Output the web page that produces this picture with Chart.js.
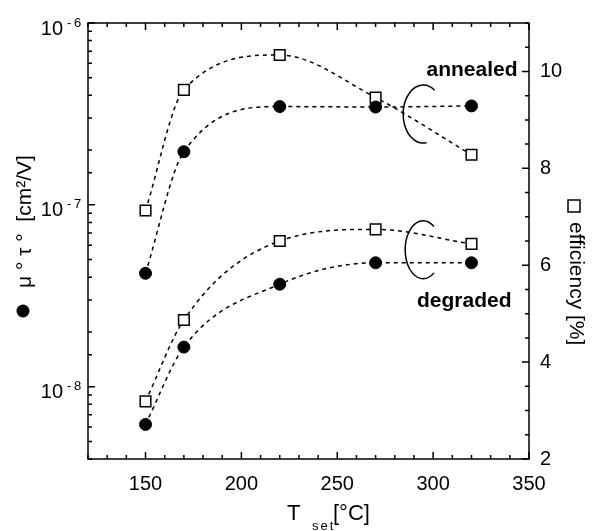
<!DOCTYPE html>
<html>
<head>
<meta charset="utf-8">
<style>
  html, body { margin: 0; padding: 0; background: #fff; }
  canvas { display: block; }
</style>
</head>
<body>
<canvas id="chart" width="592" height="531"></canvas>
<script src="https://cdn.jsdelivr.net/npm/chart.js@4.4.0/dist/chart.umd.min.js"></script>
<script>
/* ---- data ---- */
const temps = [150, 170, 220, 270, 320];
const muTauAnnealed = [4.2e-8, 1.96e-7, 3.47e-7, 3.45e-7, 3.5e-7];
const muTauDegraded = [6.2e-9, 1.65e-8, 3.66e-8, 4.8e-8, 4.8e-8];
const effAnnealed = [7.13, 9.62, 10.34, 9.46, 8.28];
const effDegraded = [3.19, 4.87, 6.50, 6.74, 6.44];

const xTicks = [150, 200, 250, 300, 350];
const effTicks = [2, 4, 6, 8, 10];
const muTauTicks = [1e-8, 1e-7, 1e-6];

const FONT = '"Liberation Sans", Arial, Helvetica, sans-serif';
Chart.defaults.font.family = FONT;
Chart.defaults.color = '#000';

const toPoints = ys => temps.map((t, i) => ({ x: t, y: ys[i] }));

const isDecade = v => Math.abs(Math.log10(v) - Math.round(Math.log10(v))) < 1e-6;

function lineSet(label, ys, axis, square) {
  return {
    label,
    data: toPoints(ys),
    yAxisID: axis,
    borderColor: '#000',
    borderWidth: 1.5,
    borderDash: [4, 4],
    cubicInterpolationMode: 'monotone',
    fill: false,
    pointStyle: square ? 'rect' : 'circle',
    pointRadius: square ? 7.5 : 6,
    pointBackgroundColor: square ? '#fff' : '#000',
    pointBorderColor: '#000',
    pointBorderWidth: square ? 1.5 : 1,
  };
}

/* frame, inward ticks, log labels */
const frameAndTicks = {
  id: 'frameAndTicks',
  afterDraw(chart) {
    const { ctx, chartArea: a, scales } = chart;
    ctx.save();
    ctx.setLineDash([]);
    ctx.strokeStyle = '#000';
    ctx.lineWidth = 1.5;
    ctx.strokeRect(a.left, a.top, a.right - a.left, a.bottom - a.top);

    ctx.beginPath();
    scales.x.ticks.forEach(t => {
      const px = scales.x.getPixelForValue(t.value);
      const len = xTicks.includes(t.value) ? 7 : 4;
      ctx.moveTo(px, a.bottom); ctx.lineTo(px, a.bottom - len);
      ctx.moveTo(px, a.top); ctx.lineTo(px, a.top + len);
    });
    scales.y.ticks.forEach(t => {
      const py = scales.y.getPixelForValue(t.value);
      const len = isDecade(t.value) ? 7 : 4;
      ctx.moveTo(a.left, py); ctx.lineTo(a.left + len, py);
    });
    scales.y2.ticks.forEach(t => {
      const py = scales.y2.getPixelForValue(t.value);
      const len = effTicks.includes(t.value) ? 7 : 4;
      ctx.moveTo(a.right, py); ctx.lineTo(a.right - len, py);
    });
    ctx.stroke();

    // 10^n labels on the log axis
    ctx.fillStyle = '#000';
    ctx.textBaseline = 'middle';
    muTauTicks.forEach(v => {
      const py = scales.y.getPixelForValue(v);
      const exp = Math.round(Math.log10(v));
      ctx.font = '20px ' + FONT;
      ctx.textAlign = 'right';
      ctx.fillText('10', a.left - 25, py + 6);
      ctx.font = '13px ' + FONT;
      ctx.textAlign = 'left';
      ctx.fillText('-', a.left - 21, py);
      ctx.fillText(String(Math.abs(exp)), a.left - 14, py);
    });
    ctx.restore();
  }
};

/* axis titles */
const axisTitles = {
  id: 'axisTitles',
  afterDraw(chart) {
    const { ctx } = chart;
    ctx.save();
    ctx.fillStyle = '#000';
    ctx.strokeStyle = '#000';

    // left: ● μ°τ° [cm²/V]
    ctx.beginPath();
    ctx.arc(23, 311, 6.5, 0, Math.PI * 2);
    ctx.fill();
    ctx.save();
    ctx.translate(25, 288);
    ctx.rotate(-Math.PI / 2);
    ctx.font = '21px ' + FONT;
    ctx.textAlign = 'left';
    ctx.textBaseline = 'middle';
    ctx.fillText('μ ° τ °  [cm²/V]', 0, 0);
    ctx.restore();

    // right: □ efficiency [%]
    ctx.lineWidth = 1.5;
    ctx.strokeRect(568, 200, 12, 12);
    ctx.save();
    ctx.translate(576, 222);
    ctx.rotate(Math.PI / 2);
    ctx.font = '21px ' + FONT;
    ctx.textAlign = 'left';
    ctx.textBaseline = 'middle';
    ctx.fillText('efficiency [%]', 0, 0);
    ctx.restore();

    // bottom: T_set [°C]
    ctx.textAlign = 'left';
    ctx.textBaseline = 'alphabetic';
    ctx.font = '22px ' + FONT;
    ctx.fillText('T', 287, 520);
    ctx.font = '13px ' + FONT;
    ctx.letterSpacing = '2px';
    ctx.fillText('set', 312, 530);
    ctx.letterSpacing = '0px';
    ctx.font = '22px ' + FONT;
    ctx.fillText('[°C]', 333, 520);
    ctx.restore();
  }
};

/* annealed / degraded labels and the brackets round the line pairs */
const groupLabels = {
  id: 'groupLabels',
  afterDatasetsDraw(chart) {
    const { ctx, scales } = chart;
    const X = v => scales.x.getPixelForValue(v);
    const E = v => scales.y2.getPixelForValue(v);
    const deg = d => d * Math.PI / 180;
    ctx.save();
    ctx.setLineDash([]);
    ctx.strokeStyle = '#000';
    ctx.fillStyle = '#000';
    ctx.lineWidth = 1.5;

    ctx.beginPath();
    ctx.ellipse(X(294.8), E(9.12), 20, 29, 0, deg(-55), deg(80), true);
    ctx.stroke();
    ctx.beginPath();
    ctx.ellipse(X(294.8), E(6.32), 18, 29, 0, deg(-53), deg(53), true);
    ctx.stroke();

    ctx.font = 'bold 21px ' + FONT;
    ctx.textBaseline = 'alphabetic';
    ctx.textAlign = 'right';
    ctx.fillText('annealed', X(344), E(9.9));
    ctx.textAlign = 'left';
    ctx.fillText('degraded', X(291.6), E(5.14));
    ctx.restore();
  }
};

new Chart(document.getElementById('chart'), {
  type: 'line',
  data: {
    datasets: [
      lineSet('μτ annealed', muTauAnnealed, 'y', false),
      lineSet('μτ degraded', muTauDegraded, 'y', false),
      lineSet('efficiency annealed', effAnnealed, 'y2', true),
      lineSet('efficiency degraded', effDegraded, 'y2', true),
    ]
  },
  options: {
    responsive: false,
    animation: false,
    devicePixelRatio: 1,
    layout: { padding: { top: 10, left: 0, right: 0, bottom: 0 } },
    plugins: { legend: { display: false }, tooltip: { enabled: false } },
    scales: {
      x: {
        type: 'linear', min: 120, max: 350,
        grid: { display: false, drawTicks: false },
        border: { display: false },
        ticks: {
          stepSize: 10, autoSkip: false, maxRotation: 0, padding: 13,
          font: { size: 20 }, color: '#000',
          callback: v => xTicks.includes(v) ? String(v) : ''
        },
        afterFit: s => { s.height = 72; }
      },
      y: {
        type: 'logarithmic', position: 'left', min: 4e-9, max: 1e-6,
        grid: { display: false, drawTicks: false },
        border: { display: false },
        ticks: { autoSkip: false, callback: () => '' },
        afterFit: s => { s.width = 88; }
      },
      y2: {
        type: 'linear', position: 'right', min: 2, max: 11,
        grid: { display: false, drawTicks: false },
        border: { display: false },
        ticks: {
          stepSize: 0.5, autoSkip: false, padding: 11,
          font: { size: 20 }, color: '#000',
          callback: v => effTicks.includes(v) ? String(v) : ''
        },
        afterFit: s => { s.width = 63; }
      }
    }
  },
  plugins: [frameAndTicks, axisTitles, groupLabels]
});
</script>
</body>
</html>
